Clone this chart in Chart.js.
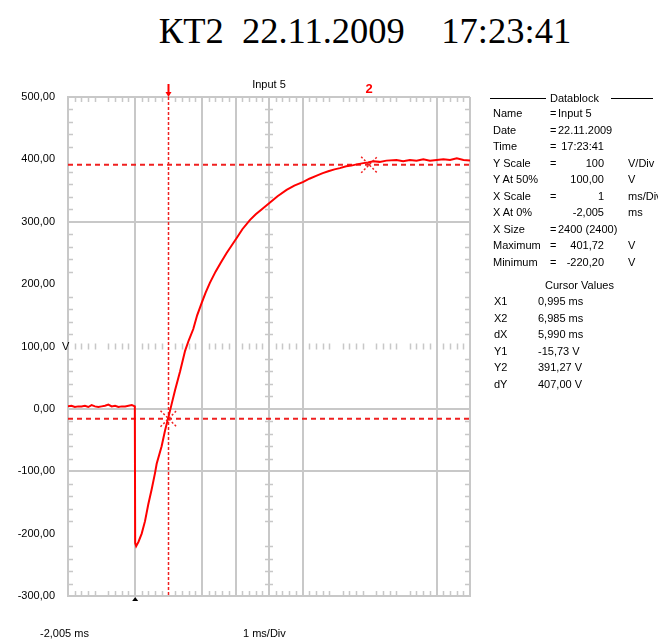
<!DOCTYPE html>
<html><head><meta charset="utf-8">
<script src="https://cdn.jsdelivr.net/npm/chart.js@4/dist/chart.umd.min.js"></script>
<style>
body{margin:0;background:#fff;width:658px;height:639px;overflow:hidden;position:relative;font-family:"Liberation Sans",Arial,sans-serif;color:#000;}
#title{position:absolute;left:0;width:730px;top:9px;text-align:center;font-family:"Liberation Serif","Times New Roman",serif;font-size:36.5px;white-space:pre;}
#c{position:absolute;left:0;top:0;}
.t{position:absolute;font-size:11px;white-space:pre;line-height:12px;}
.r{text-align:right;}
.hl{position:absolute;height:1px;background:#000;}
</style></head>
<body>
<div id="title">КТ2  22.11.2009    17:23:41</div>
<canvas id="c" width="658" height="639"></canvas>
<div id="db"></div>
<script>
// ---- data ----
const channelName = "Input 5";
const timeMs = [-2.005,-1.9,-1.8,-1.7,-1.6,-1.5,-1.4,-1.3,-1.2,-1.1,-1.0,-0.9,-0.8,-0.7,-0.6,-0.5,-0.4,-0.3,-0.2,-0.1,-0.01,
  0.0,0.03,0.1,0.195,0.294,0.392,0.493,0.592,0.642,0.79,0.89,0.99,1.09,1.19,1.29,1.34,1.49,1.6,1.735,1.85,1.986,2.1,2.23,2.4,2.55,2.73,2.88,3.03,3.2,3.43,3.6,3.8,4.025,4.25,4.52,4.75,5.02,5.2,5.42,5.6,5.765,5.95,6.11,6.3,6.45,6.61,6.81,6.95,7.11,7.3,7.5,7.8,8.0,8.2,8.4,8.6,8.8,9.0,9.2,9.4,9.6,9.8,9.995];
const voltage = [4,5,3,4,4,5,3,6,4,3,4,5,7,4,5,3,4,4,5,6,4,
  -215,-220.2,-213,-200,-180,-153,-129,-103,-88,-60,-35,-14,8,30,50,60,93,110,128,150,170,186,202,220,234,250,262,274,288,303,312,321,331,341,351,358,364,369,374,378,381,384,386,389,390,392,394,395,397,396,398,399,397,399,398,400,398,399,400,399,401.7,399,398];
const xStart = -2.005;       // ms at left edge
const msPerDiv = 1;
const xDivisions = 12;
const xGridShown = [2,4,5,6,7,11,12];
const yMin = -300, yMax = 500, yStep = 100;
const yGridShown = [500,300,0,-100];
const yCenter = 100;
const xCenterDiv = 6;
const cursorX = [0.995, 6.985];
const cursorY = [-15.73, 391.27];
const triggerMs = 0;
const dbRows = [
  ["Name","=",channelName,"",true],
  ["Date","=","22.11.2009","",true],
  ["Time","=","17:23:41","",false],
  ["Y Scale","=","100","V/Div",false],
  ["Y At 50%","","100,00","V",false],
  ["X Scale","=","1","ms/Div",false],
  ["X At 0%","","-2,005","ms",false],
  ["X Size","=","2400 (2400)","",true],
  ["Maximum","=","401,72","V",false],
  ["Minimum","=","-220,20","V",false]
];
const cursorRows = [
  ["X1","=","0,995 ms"],["X2","=","6,985 ms"],["dX","=","5,990 ms"],
  ["Y1","=","-15,73 V"],["Y2","=","391,27 V"],["dY","=","407,00 V"]
];
// ---- datablock text ----
const db = document.getElementById('db');
function add(txt, x, y, cls, w){const d=document.createElement('div');d.className='t '+(cls||'');d.textContent=txt;d.style.top=(y-6)+'px';
  if(cls==='r'){d.style.left=(x-w)+'px';d.style.width=w+'px';}else d.style.left=x+'px';db.appendChild(d);return d;}
function hline(x1,x2,y){const d=document.createElement('div');d.className='hl';d.style.left=x1+'px';d.style.width=(x2-x1)+'px';d.style.top=y+'px';db.appendChild(d);}
hline(490,546,98); hline(611,653,98);
add("Datablock",550,98);
dbRows.forEach((r,i)=>{const y=113+i*16.5;add(r[0],493,y);if(r[1])add(r[1],550,y);
  if(r[4])add(r[2],558,y);else add(r[2],604,y,'r',80); if(r[3])add(r[3],628,y);});
add("Cursor Values",545,285);
cursorRows.forEach((r,i)=>{const y=301+i*16.5;add(r[0],494,y);add(r[2],538,y);});
add("-2,005 ms",40,633); add("1 ms/Div",243,633);

const GRID='#c8c8c8';
const fmt=v=>{const s=Math.abs(v).toFixed(2).replace('.',',');return (v<0?'-':'')+s;};
const deco = {
  id:'deco',
  beforeDatasetsDraw(ch){
    const c=ch.ctx,a=ch.chartArea,X=ch.scales.x,Y=ch.scales.y;
    c.save();c.strokeStyle=GRID;c.lineWidth=1.5;
    const yc=Y.getPixelForValue(yCenter), xc=X.getPixelForValue(xStart+xCenterDiv*msPerDiv);
    for(let i=0;i<xDivisions;i++)for(let k=1;k<5;k++){
      const x=Math.round(X.getPixelForValue(xStart+(i+k/5)*msPerDiv))+0.5;
      c.beginPath();c.moveTo(x,a.top);c.lineTo(x,a.top+5);c.moveTo(x,a.bottom);c.lineTo(x,a.bottom-5);
      c.moveTo(x,yc-3);c.lineTo(x,yc+3);c.stroke();}
    const ny=(yMax-yMin)/yStep;
    for(let j=0;j<ny;j++)for(let k=1;k<5;k++){
      const y=Math.round(Y.getPixelForValue(yMin+(j+k/5)*yStep))+0.5;
      c.beginPath();c.moveTo(a.left,y);c.lineTo(a.left+5,y);c.moveTo(a.right,y);c.lineTo(a.right-5,y);
      c.moveTo(xc-4,y);c.lineTo(xc+4,y);c.stroke();}
    c.strokeStyle='#f02020';c.lineWidth=2;c.setLineDash([5,4]);
    cursorY.forEach(v=>{const y=Y.getPixelForValue(v);c.beginPath();c.moveTo(a.left,y);c.lineTo(a.right,y);c.stroke();});
    c.setLineDash([3,2]);c.lineWidth=1.5;
    const x1=X.getPixelForValue(cursorX[0]);c.beginPath();c.moveTo(x1,a.top);c.lineTo(x1,a.bottom);c.stroke();
    c.restore();
  },
  afterDatasetsDraw(ch){
    const c=ch.ctx,a=ch.chartArea,X=ch.scales.x,Y=ch.scales.y;
    c.save();
    c.strokeStyle='#f02020';c.lineWidth=1.5;c.setLineDash([2,2]);
    cursorX.forEach((v,i)=>{const x=X.getPixelForValue(v),y=Y.getPixelForValue(cursorY[i]);
      c.beginPath();c.moveTo(x-8,y-8);c.lineTo(x+8,y+8);c.moveTo(x-8,y+8);c.lineTo(x+8,y-8);c.stroke();});
    c.setLineDash([]);
    const x1=X.getPixelForValue(cursorX[0]);
    c.strokeStyle='#f00';c.fillStyle='#f00';c.lineWidth=2;
    c.beginPath();c.moveTo(x1,a.top-13);c.lineTo(x1,a.top-3);c.stroke();
    c.beginPath();c.moveTo(x1-3,a.top-5);c.lineTo(x1+3,a.top-5);c.lineTo(x1,a.top);c.closePath();c.fill();
    c.font='bold 13px "Liberation Sans", Arial';c.textAlign='center';c.textBaseline='middle';
    c.fillText('2',X.getPixelForValue(cursorX[1]),a.top-8);
    const xt=X.getPixelForValue(triggerMs);c.fillStyle='#000';
    c.beginPath();c.moveTo(xt-3,a.bottom+5);c.lineTo(xt+3,a.bottom+5);c.lineTo(xt,a.bottom+1);c.closePath();c.fill();
    c.font='11px "Liberation Sans", Arial';c.fillText(channelName,(a.left+a.right)/2,a.top-12);
    c.textAlign='left';c.fillText('V',a.left-6,Y.getPixelForValue(yCenter));
    c.restore();
  }
};
new Chart(document.getElementById('c'),{
  type:'line',
  data:{datasets:[{data:timeMs.map((t,i)=>({x:t,y:voltage[i]})),borderColor:'#ff0000',borderWidth:2,pointRadius:0,tension:0}]},
  options:{
    responsive:false,animation:false,
    layout:{padding:{top:97,right:188,left:0,bottom:0}},
    plugins:{legend:{display:false},tooltip:{enabled:false},title:{display:false}},
    scales:{
      x:{type:'linear',min:xStart,max:xStart+xDivisions*msPerDiv,
        afterBuildTicks:s=>{s.ticks=Array.from({length:xDivisions+1},(_,d)=>({value:xStart+d*msPerDiv}));},
        afterFit:s=>{s.height=43;},
        ticks:{display:false},
        grid:{drawTicks:false,lineWidth:2,color:c=>xGridShown.includes(c.index)?GRID:'rgba(0,0,0,0)'},
        border:{display:true,color:GRID,width:2}},
      y:{min:yMin,max:yMax,
        afterFit:s=>{s.width=68;},
        ticks:{stepSize:yStep,padding:13,color:'#000',font:{size:11,family:'"Liberation Sans", Arial'},callback:v=>fmt(v)},
        grid:{drawTicks:false,lineWidth:2,color:c=>yGridShown.includes(c.tick.value)?GRID:'rgba(0,0,0,0)'},
        border:{display:true,color:GRID,width:2}}
    }
  },
  plugins:[deco]
});
</script>
</body></html>
